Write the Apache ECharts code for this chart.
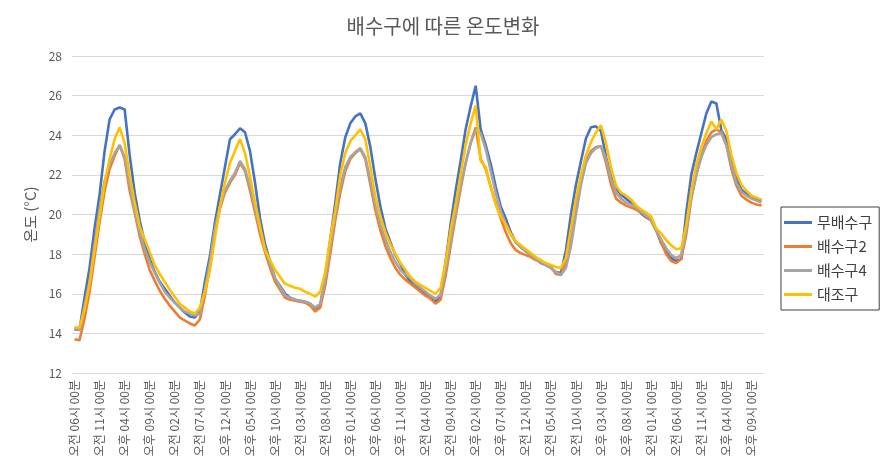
<!DOCTYPE html>
<html>
<head>
<meta charset="utf-8">
<script src="https://cdn.jsdelivr.net/npm/echarts@6/dist/echarts.min.js"></script>
<style>
html,body{margin:0;padding:0;background:#fff;}
#chart{width:886px;height:472px;}
</style>
</head>
<body>
<div id="chart"></div>
<script>
// Hourly readings starting 오전 06시 00분 (138 points)
const startHour = 6;
const pointCount = 138;

const seriesNames = ['무배수구', '배수구2', '배수구4', '대조구'];

const blue = [
14.2,14.2,15.8,17.3,19.3,21.0,23.2,24.8,25.3,25.4,25.3,23.0,21.1,19.7,18.6,17.75,17.1,16.6,16.25,15.9,15.55,15.3,15.05,14.85,14.8,
15.1,16.6,17.9,19.6,21.0,22.4,23.8,24.05,24.35,24.15,23.2,21.6,19.8,18.5,17.6,16.75,16.4,16.0,15.8,15.7,15.65,15.6,15.5,15.25,15.4,
16.9,18.7,20.6,22.6,23.9,24.6,24.95,25.1,24.6,23.4,21.8,20.4,19.3,18.6,17.95,17.5,16.95,16.6,16.4,16.15,16.0,15.8,15.6,15.9,
17.6,19.5,21.2,22.7,24.3,25.45,26.5,24.3,23.5,22.55,21.4,20.4,19.8,19.1,18.6,18.35,18.15,17.95,17.75,17.55,17.45,17.3,17.1,17.05,
18.2,20.0,21.5,22.7,23.85,24.4,24.45,24.2,22.9,21.9,21.3,21.0,20.8,20.6,20.35,20.05,19.85,19.7,19.2,18.55,18.1,17.8,17.65,17.75,
20.1,22.0,23.1,24.1,25.1,25.7,25.6,24.25,23.8,22.7,21.8,21.25,21.05,20.85,20.8,20.7
];

const orange = [
13.7,13.65,14.75,16.1,17.85,19.6,21.2,22.3,22.95,23.5,22.8,21.2,20.1,18.9,18.0,17.2,16.65,16.15,15.75,15.4,15.1,14.8,14.65,14.5,14.4,
14.7,15.9,17.4,19.1,20.3,21.1,21.6,22.0,22.6,22.2,21.2,20.1,19.0,18.1,17.3,16.6,16.2,15.8,15.7,15.65,15.6,15.55,15.4,15.1,15.3,
16.4,18.0,19.7,21.1,22.2,22.8,23.1,23.3,22.8,21.5,20.2,19.2,18.4,17.8,17.3,16.95,16.7,16.5,16.3,16.1,15.9,15.75,15.5,15.7,
16.9,18.4,19.9,21.3,22.6,23.6,24.4,22.8,22.3,21.4,20.6,19.8,19.1,18.55,18.2,18.05,17.95,17.85,17.7,17.6,17.5,17.35,17.0,16.95,
17.6,18.9,20.4,21.7,22.7,23.2,23.4,23.45,22.6,21.5,20.8,20.6,20.45,20.35,20.25,20.1,19.9,19.7,19.2,18.6,18.0,17.65,17.55,17.75,
19.0,20.8,22.0,23.0,23.7,24.15,24.3,24.15,23.5,22.3,21.45,20.95,20.75,20.6,20.5,20.45
];

const gray = [
14.3,14.15,15.35,16.6,18.5,20.3,21.7,22.5,23.1,23.5,22.9,21.5,20.2,19.1,18.25,17.6,17.05,16.55,16.1,15.8,15.55,15.3,15.1,15.0,14.9,
15.0,16.2,17.6,19.3,20.4,21.2,21.7,22.1,22.7,22.3,21.4,20.3,19.2,18.3,17.5,16.8,16.35,15.9,15.8,15.7,15.65,15.6,15.5,15.3,15.5,
16.7,18.3,20.0,21.4,22.4,22.9,23.15,23.35,22.9,21.7,20.45,19.5,18.75,18.1,17.6,17.2,16.95,16.8,16.5,16.3,16.1,15.9,15.75,15.95,
17.2,18.65,20.1,21.5,22.6,23.6,24.3,24.1,23.3,22.2,21.1,20.2,19.5,19.0,18.6,18.35,18.15,17.95,17.75,17.6,17.45,17.3,17.1,16.95,
17.3,18.4,20.0,21.5,22.6,23.1,23.35,23.45,22.8,21.8,21.1,20.8,20.6,20.5,20.35,20.15,19.95,19.75,19.2,18.75,18.3,17.95,17.8,17.95,
19.2,20.9,22.0,22.9,23.5,23.9,24.05,24.1,23.5,22.5,21.6,21.15,20.95,20.8,20.7,20.6
];

const yellow = [
14.3,14.3,15.2,16.5,18.2,19.9,21.6,22.8,23.8,24.4,23.6,22.0,20.6,19.4,18.75,18.1,17.45,17.0,16.6,16.2,15.85,15.5,15.3,15.1,15.0,
15.3,16.1,17.2,18.8,20.4,21.6,22.6,23.2,23.8,23.1,21.9,20.6,19.4,18.2,17.7,17.2,16.85,16.5,16.4,16.3,16.25,16.1,16.0,15.85,16.1,
17.1,18.8,20.2,22.0,23.1,23.7,24.0,24.3,23.8,22.4,20.9,19.9,19.1,18.5,18.0,17.55,17.2,16.85,16.6,16.45,16.3,16.15,16.0,16.3,
17.6,19.2,20.5,22.0,23.5,24.6,25.5,22.7,22.4,21.4,20.5,19.9,19.5,19.0,18.65,18.45,18.25,18.05,17.85,17.7,17.55,17.45,17.35,17.3,
17.8,19.3,20.8,22.0,23.0,23.65,24.15,24.5,23.6,22.35,21.45,21.1,20.95,20.75,20.45,20.25,20.1,19.9,19.3,19.05,18.7,18.45,18.25,18.3,
19.5,21.2,22.5,23.4,24.1,24.7,24.3,24.8,24.2,23.0,22.1,21.5,21.2,20.95,20.85,20.75
];

const yTicks = {min: 12, max: 28, step: 2};

function hourLabel(h) {
  const ap = h < 12 ? '오전' : '오후';
  let hh = h % 12; if (hh === 0) hh = 12;
  return ap + ' ' + String(hh).padStart(2, '0') + '시 00분';
}
const categories = [];
for (let i = 0; i < pointCount; i++) categories.push(hourLabel((startHour + i) % 24));

const colors = ['#4472C4', '#ED7D31', '#A5A5A5', '#FFC000'];
const values = [blue, orange, gray, yellow];
const FONT = '"Noto Sans CJK KR", "Noto Sans", sans-serif';

const chart = echarts.init(document.getElementById('chart'));
chart.setOption({
  animation: false,
  color: colors,
  textStyle: {fontFamily: FONT},
  title: {
    text: '배수구에 따른 온도변화',
    left: 'center',
    top: 11,
    textStyle: {fontFamily: FONT, fontSize: 20, fontWeight: 'normal', color: '#595959'}
  },
  grid: {left: 72, right: 122, top: 56, bottom: 99, containLabel: false},
  legend: {
    orient: 'vertical',
    left: 781,
    top: 207,
    icon: 'rect',
    itemWidth: 28,
    itemHeight: 3,
    itemGap: 9,
    padding: [8, 7, 8, 3],
    borderColor: '#404040',
    borderWidth: 1,
    textStyle: {fontFamily: FONT, fontSize: 15, color: '#404040'},
    data: seriesNames
  },
  xAxis: {
    type: 'category',
    data: categories,
    boundaryGap: true,
    axisTick: {show: false},
    axisLine: {lineStyle: {color: '#d9d9d9'}},
    axisLabel: {interval: 4, rotate: 90, fontSize: 12, color: '#595959', margin: 7, fontFamily: FONT}
  },
  yAxis: {
    type: 'value',
    min: yTicks.min,
    max: yTicks.max,
    interval: yTicks.step,
    name: '온도 (°C)',
    nameLocation: 'middle',
    nameRotate: 90,
    nameGap: 28,
    nameTextStyle: {fontSize: 15, color: '#595959', fontFamily: FONT},
    axisLine: {show: false},
    axisTick: {show: false},
    axisLabel: {fontSize: 12, color: '#595959', margin: 10, fontFamily: FONT},
    splitLine: {lineStyle: {color: '#d9d9d9'}}
  },
  series: seriesNames.map((n, i) => ({
    name: n,
    type: 'line',
    data: values[i],
    showSymbol: false,
    symbol: 'none',
    lineStyle: {width: 2.6, color: colors[i]},
    itemStyle: {color: colors[i]},
    emphasis: {disabled: true},
    z: 2 + i
  }))
});
</script>
</body>
</html>
